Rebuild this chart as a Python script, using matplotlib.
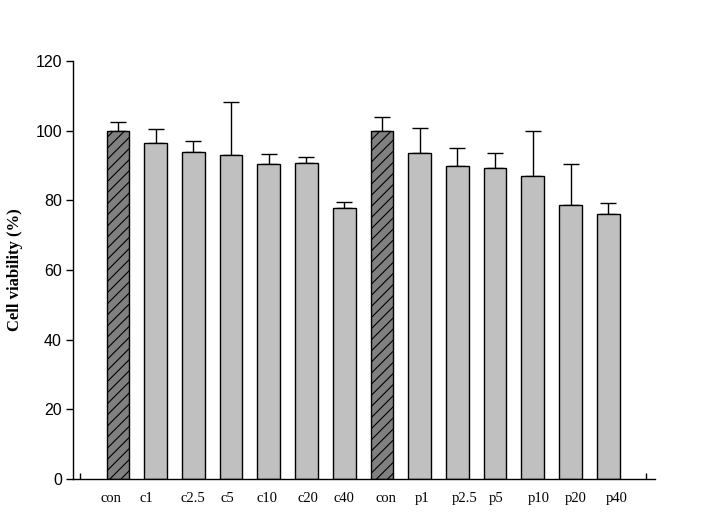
import numpy as np
import matplotlib
matplotlib.use('Agg')
import matplotlib.pyplot as plt

labels = ['con', 'c1', 'c2.5', 'c5', 'c10', 'c20', 'c40',
          'con', 'p1', 'p2.5', 'p5', 'p10', 'p20', 'p40']
media  = [99.9, 96.4, 93.8, 92.9, 90.3, 90.6, 77.7,
          99.9, 93.7, 90.0, 89.2, 86.9, 78.6, 76.0]
topo   = [102.4, 100.4, 97.0, 108.2, 93.4, 92.4, 79.4,
          103.8, 100.9, 94.9, 93.5, 99.8, 90.3, 79.2]
controle = [True, False, False, False, False, False, False,
            True, False, False, False, False, False, False]

erro = np.array(topo) - np.array(media)
x = np.arange(len(labels))

# deslocamento dos rotulos no eixo x (como no original, nao centralizados)
desloc = [-0.19, -0.25, 0.0, -0.09, -0.05, 0.04, 0.0,
          0.1, 0.07, 0.2, 0.03, 0.15, 0.14, 0.23]

plt.rcParams['hatch.linewidth'] = 0.8

fig = plt.figure(figsize=(7.06, 5.13), dpi=100)
ax = fig.add_axes([73/706, 1 - 479/513, (655 - 73)/706, (479 - 61)/513])

cores = ['#808080' if c else '#c0c0c0' for c in controle]
hatch = ['///' if c else None for c in controle]
for xi, m, cor, h in zip(x, media, cores, hatch):
    ax.bar(xi, m, width=0.6, color=cor, edgecolor='black', linewidth=1.0,
           hatch=h, zorder=2)
ax.errorbar(x, media, yerr=[np.zeros(len(erro)), erro], fmt='none',
            ecolor='black', elinewidth=1.0, capsize=6, capthick=1.0, zorder=1)

ax.set_xlim(-1.19, 14.24)
ax.set_ylim(0, 120)
ax.set_yticks(range(0, 121, 20))
ax.tick_params(axis='y', direction='out', length=5, width=1,
               labelsize=11.5, pad=3)
for t in ax.get_yticklabels():
    t.set_fontfamily('Liberation Sans')
ax.set_xticks([-1, 14])
ax.set_xticklabels(['', ''])
ax.tick_params(axis='x', direction='in', length=4, width=1)

for xi, lab, d in zip(x, labels, desloc):
    ax.text(xi + d, -5.5, lab, ha='center', va='center',
            fontfamily='Liberation Serif', fontsize=10.5)

ax.spines['top'].set_visible(False)
ax.spines['right'].set_visible(False)
ax.spines['left'].set_linewidth(1)
ax.spines['bottom'].set_linewidth(1)

fig.text(15/706, 1 - 270/513, 'Cell viability (%)', rotation=90,
         ha='center', va='center', fontfamily='Liberation Serif',
         fontweight='bold', fontsize=12)

fig.savefig('out.png', dpi=100)
